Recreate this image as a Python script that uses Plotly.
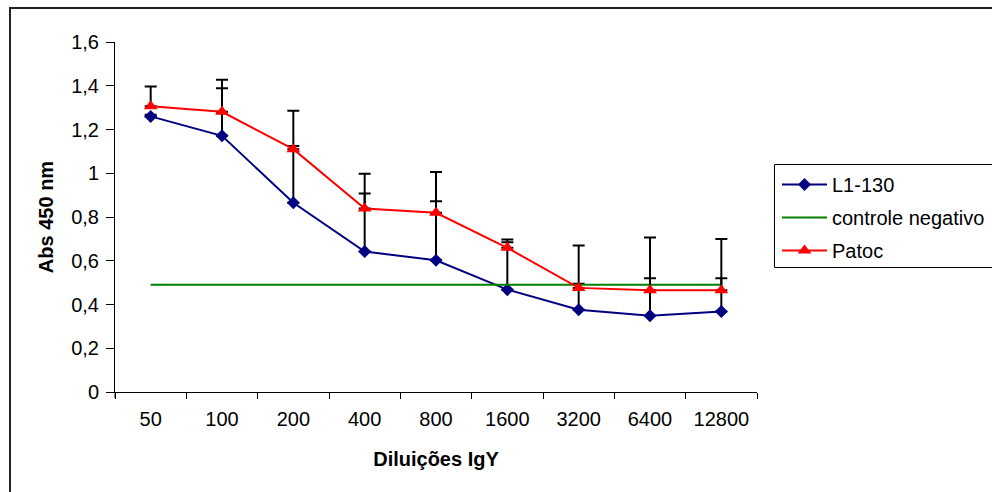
import plotly.graph_objects as go

categories = ["50", "100", "200", "400", "800", "1600", "3200", "6400", "12800"]
l1_130 = [1.26, 1.171, 0.865, 0.642, 0.602, 0.468, 0.376, 0.349, 0.368]
l1_130_err = [0.007, 0.218, 0.26, 0.266, 0.27, 0.217, 0.119, 0.171, 0.152]
patoc = [1.306, 1.281, 1.11, 0.839, 0.819, 0.659, 0.476, 0.465, 0.465]
patoc_err = [0.091, 0.146, 0.176, 0.159, 0.187, 0.038, 0.194, 0.241, 0.234]
controle = [0.49] * 9
y_ticks = [0, 0.2, 0.4, 0.6, 0.8, 1.0, 1.2, 1.4, 1.6]

FONT = "Liberation Sans, Arial, sans-serif"
zeros = [0] * len(categories)

fig = go.Figure()
fig.add_trace(go.Scatter(
    x=categories, y=l1_130, name="L1-130", mode="lines+markers", legendgroup="a",
    line=dict(color="#000080", width=2),
    marker=dict(symbol="diamond", size=10, color="#000080"),
    error_y=dict(type="data", symmetric=False, array=l1_130_err, arrayminus=zeros,
                 color="black", thickness=2, width=6),
))
fig.add_trace(go.Scatter(
    x=categories, y=controle, name="controle negativo", mode="lines", legendgroup="b",
    line=dict(color="#008000", width=2),
))
fig.add_trace(go.Scatter(
    x=categories, y=patoc, name="Patoc", mode="lines+markers", legendgroup="c",
    line=dict(color="#FF0000", width=2),
    marker=dict(symbol="triangle-up", size=12, color="#FF0000"),
    error_y=dict(type="data", symmetric=False, array=patoc_err, arrayminus=zeros,
                 color="black", thickness=2, width=6),
))

W, H = 992, 492
L, R, T, B = 115, 235, 42, 100
pw, ph = W - L - R, H - T - B

def px_x(x):
    return (x - L) / pw

def px_y(y):
    return (H - B - y) / ph

fig.update_layout(
    width=W, height=H,
    margin=dict(l=L, r=R, t=T, b=B, pad=0, autoexpand=False),
    paper_bgcolor="white", plot_bgcolor="white",
    separators=", ",
    font=dict(family=FONT, size=20, color="black"),
    showlegend=True,
    legend=dict(
        x=px_x(777), xanchor="left", y=px_y(165), yanchor="top",
        bgcolor="rgba(0,0,0,0)", borderwidth=0,
        font=dict(family=FONT, size=20, color="black"),
        itemwidth=45, tracegroupgap=4,
    ),
    xaxis=dict(
        type="category", range=[-0.5, 8.5],
        showline=True, linecolor="black", linewidth=1,
        ticks="outside", tickson="boundaries", ticklen=6, tickcolor="black", tickwidth=1,
        ticklabelstandoff=9,
        showgrid=False, zeroline=False,
        tickfont=dict(family=FONT, size=20, color="black"),
        title=dict(text="<b>Diluições IgY</b>", font=dict(family=FONT, size=20), standoff=22),
    ),
    yaxis=dict(
        range=[0, 1.6], tickvals=y_ticks,
        showline=True, linecolor="black", linewidth=1,
        ticks="outside", ticklen=8, tickcolor="black", tickwidth=1,
        ticklabelstandoff=3,
        showgrid=False, zeroline=False,
        tickfont=dict(family=FONT, size=20, color="black"),
        title=dict(text="<b>Abs 450 nm</b>", font=dict(family=FONT, size=20), standoff=12),
    ),
    shapes=[
        # outer chart border (right and bottom lie outside the view)
        dict(type="rect", xref="paper", yref="paper",
             x0=px_x(10), x1=px_x(1005), y0=px_y(8), y1=px_y(505),
             line=dict(color="#222222", width=2), layer="below"),
        # legend box
        dict(type="rect", xref="paper", yref="paper",
             x0=px_x(774.5), x1=px_x(1005), y0=px_y(164.5), y1=px_y(267.5),
             line=dict(color="black", width=1), layer="below"),
        # y axis extension below zero
        dict(type="line", xref="paper", yref="paper",
             x0=0, x1=0, y0=0, y1=px_y(398),
             line=dict(color="black", width=1)),
    ],
)

fig.write_html("out.html")
